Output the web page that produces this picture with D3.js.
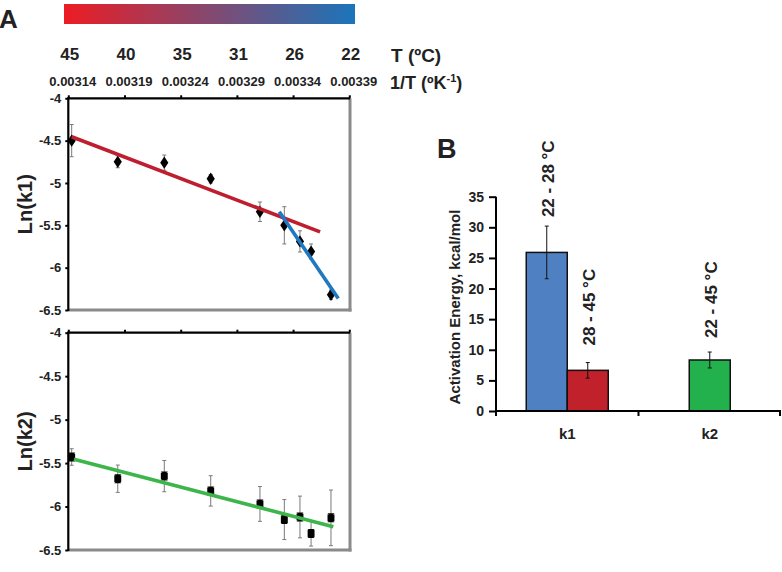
<!DOCTYPE html>
<html><head><meta charset="utf-8">
<script src="https://cdn.jsdelivr.net/npm/d3@7"></script>
<style>
body{margin:0;background:#fff;}
svg text{font-family:"Liberation Sans",Arial,sans-serif;font-weight:bold;fill:#222;}
</style></head>
<body><svg id="c" width="782" height="572"></svg>
<script>
// ---------- data ----------
const invTTicks = [0.00314, 0.00319, 0.00324, 0.00329, 0.00334, 0.00339];
const tempLabels = ["45", "40", "35", "31", "26", "22"];
const lnTicks = [-4, -4.5, -5, -5.5, -6, -6.5];
const invT = [0.003143, 0.003184, 0.0032254, 0.0032667, 0.0033105, 0.0033322, 0.0033461, 0.003356, 0.0033737];
const lnk1 = [-4.50, -4.75, -4.76, -4.95, -5.34, -5.50, -5.69, -5.81, -6.32];
const lnk1Err = [0.19, 0.07, 0.09, 0.05, 0.115, 0.22, 0.125, 0.09, 0.055];
const lnk2 = [-5.43, -5.68, -5.65, -5.82, -5.97, -6.15, -6.12, -6.31, -6.13];
const lnk2Err = [0.095, 0.157, 0.18, 0.175, 0.2, 0.23, 0.24, 0.145, 0.32];
const fitRedX = [0.003143, 0.003364], fitRedY = [-4.454, -5.577];
const fitBlueX = [0.0033277, 0.0033802], fitBlueY = [-5.34, -6.364];
const fitGreenX = [0.003145, 0.0033758], fitGreenY = [-5.457, -6.232];

const eaCategories = ["k1", "k2"];
const eaRanges = ["22 - 28 °C", "28 - 45 °C", "22 - 45 °C"];
const eaCategoryOf = ["k1", "k1", "k2"];
const eaValues = [25.9, 6.64, 8.33];
const eaErrors = [4.3, 1.27, 1.3];
const eaTicks = [0, 5, 10, 15, 20, 25, 30, 35];

// ---------- drawing ----------
const svg = d3.select("#c");
const FONT = '"Liberation Sans",Arial,sans-serif';

// Panel letters
svg.append("text").attr("x", -1).attr("y", 28).attr("font-size", 26).text("A");
svg.append("text").attr("x", 437).attr("y", 158).attr("font-size", 27).text("B");

// colour bar
const defs = svg.append("defs");
const grad = defs.append("linearGradient").attr("id", "tg").attr("x1", "0%").attr("x2", "100%");
grad.append("stop").attr("offset", "0%").attr("stop-color", "#ED1C24");
grad.append("stop").attr("offset", "100%").attr("stop-color", "#1B75BB");
svg.append("rect").attr("x", 64).attr("y", 4).attr("width", 291).attr("height", 20).attr("fill", "url(#tg)");

const x = d3.scaleLinear().domain([0.00314, 0.00339]).range([68.3, 349.3]);

// temperature labels
svg.selectAll("text.tl").data(tempLabels).join("text").attr("class", "tl")
  .attr("x", (d, i) => x(invTTicks[i]) + 1.5).attr("y", 60).attr("text-anchor", "middle")
  .attr("font-size", 17).text(d => d);
svg.append("text").attr("x", 391).attr("y", 62).attr("font-size", 19).text("T (ºC)");
const invLab = svg.append("text").attr("x", 390).attr("y", 89).attr("font-size", 18);
invLab.append("tspan").text("1/T (ºK");
invLab.append("tspan").attr("dy", -7).attr("font-size", 11).text("-1");
invLab.append("tspan").attr("dy", 7).text(")");

function drawPlot(top, bottom, vals, errs, marker, fits, title, showX) {
  const y = d3.scaleLinear().domain([-6.5, -4]).range([bottom, top]);
  const g = svg.append("g");
  // gray frame right & bottom
  g.append("line").attr("x1", 350).attr("x2", 350).attr("y1", top).attr("y2", bottom + 1.5)
    .attr("stroke", "#8a8a8a").attr("stroke-width", 3);
  g.append("line").attr("x1", 68.3).attr("x2", 351.5).attr("y1", bottom).attr("y2", bottom)
    .attr("stroke", "#8a8a8a").attr("stroke-width", 3);
  // axes
  const ax = d3.axisTop(x).tickValues(invTTicks).tickSize(3).tickPadding(9)
    .tickFormat(showX ? (d => d.toFixed(5)) : "");
  const gx = g.append("g").attr("transform", `translate(0,${top})`).call(ax);
  gx.select(".domain").attr("stroke", "#000").attr("stroke-width", 2.2).attr("d", `M67,0H350`);
  gx.selectAll(".tick line").attr("stroke", "#000").attr("stroke-width", 2);
  gx.selectAll(".tick text").attr("font-size", 13).attr("font-family", FONT).attr("font-weight", "bold")
    .attr("fill", "#222").attr("dx", 4);
  const ay = d3.axisLeft(y).tickValues(lnTicks).tickSize(3).tickPadding(4).tickFormat(d => String(d));
  const gy = g.append("g").attr("transform", `translate(68.3,0)`).call(ay);
  gy.select(".domain").attr("stroke", "#000").attr("stroke-width", 2.2).attr("d", `M0,${top}V${bottom+1}`);
  gy.selectAll(".tick line").attr("stroke", "#000").attr("stroke-width", 2);
  gy.selectAll(".tick text").attr("font-size", 13).attr("font-family", FONT).attr("font-weight", "bold")
    .attr("fill", "#222");
  // title
  g.append("text").attr("transform", `translate(32,${(top + bottom) / 2}) rotate(-90)`)
    .attr("text-anchor", "middle").attr("font-size", 20).text(title);
  // error bars
  const eb = g.append("g").attr("stroke", "#7a7a7a").attr("stroke-width", 1);
  vals.forEach((v, i) => {
    const cx = x(invT[i]);
    eb.append("line").attr("x1", cx).attr("x2", cx).attr("y1", y(v + errs[i])).attr("y2", y(v - errs[i]));
    eb.append("line").attr("x1", cx - 2).attr("x2", cx + 2).attr("y1", y(v + errs[i])).attr("y2", y(v + errs[i]));
    eb.append("line").attr("x1", cx - 2).attr("x2", cx + 2).attr("y1", y(v - errs[i])).attr("y2", y(v - errs[i]));
  });
  // markers
  const sym = marker === "diamond" ? d3.symbol(d3.symbolDiamond, 44) : d3.symbol(d3.symbolSquare, 48);
  g.selectAll("path.m").data(vals).join("path").attr("class", "m")
    .attr("transform", (d, i) => `translate(${x(invT[i])},${y(d)})${marker === "diamond" ? " scale(1.15,1)" : ""}`)
    .attr("d", sym).attr("fill", "#000");
  if (marker === "square") {
    g.selectAll("path.mx").data(vals).join("path").attr("class", "mx")
      .attr("transform", (d, i) => `translate(${x(invT[i])},${y(d)})`)
      .attr("d", "M-3.5,-4.5L3.5,-4.5L0,-1ZM-3.5,4.5L3.5,4.5L0,1Z").attr("fill", "#000");
  }
  // fit lines
  fits.forEach(f => {
    g.append("line").attr("x1", x(f.xs[0])).attr("x2", x(f.xs[1]))
      .attr("y1", y(f.ys[0])).attr("y2", y(f.ys[1]))
      .attr("stroke", f.color).attr("stroke-width", 3.6);
  });
}

drawPlot(98.3, 310, lnk1, lnk1Err, "diamond",
  [{xs: fitRedX, ys: fitRedY, color: "#BE1E2D"}, {xs: fitBlueX, ys: fitBlueY, color: "#2078C0"}], "Ln(k1)", true);
drawPlot(332.7, 550, lnk2, lnk2Err, "square",
  [{xs: fitGreenX, ys: fitGreenY, color: "#3EB54A"}], "Ln(k2)", false);

// ---------- panel B ----------
const yb = d3.scaleLinear().domain([0, 35]).range([411, 196.7]);
const xb = d3.scaleBand().domain(eaCategories).range([496, 781]);
const barColors = ["#4F81C2", "#C0212B", "#22B14C"];
const bw = 41;
const gb = svg.append("g");
const pos = eaValues.map((v, i) => {
  const cat = eaCategoryOf[i];
  const members = eaCategoryOf.map((c, j) => c === cat ? j : -1).filter(j => j >= 0);
  const k = members.indexOf(i);
  const cx = xb(cat) + xb.bandwidth() / 2;
  return cx - members.length * bw / 2 + k * bw;
});
gb.selectAll("rect.bar").data(eaValues).join("rect").attr("class", "bar")
  .attr("x", (d, i) => pos[i]).attr("width", bw)
  .attr("y", d => yb(d)).attr("height", d => yb(0) - yb(d))
  .attr("fill", (d, i) => barColors[i]).attr("stroke", "#111").attr("stroke-width", 1.5);
// error bars
eaValues.forEach((v, i) => {
  const cx = pos[i] + bw / 2;
  const e = gb.append("g").attr("stroke", "#111").attr("stroke-width", 1);
  e.append("line").attr("x1", cx).attr("x2", cx).attr("y1", yb(v + eaErrors[i])).attr("y2", yb(v - eaErrors[i]));
  e.append("line").attr("x1", cx - 2).attr("x2", cx + 2).attr("y1", yb(v + eaErrors[i])).attr("y2", yb(v + eaErrors[i]));
  e.append("line").attr("x1", cx - 2).attr("x2", cx + 2).attr("y1", yb(v - eaErrors[i])).attr("y2", yb(v - eaErrors[i]));
});
// range labels
const labOff = [9, 17, 14];
gb.selectAll("text.rl").data(eaRanges).join("text").attr("class", "rl")
  .attr("transform", (d, i) => `translate(${pos[i] + bw / 2 + 7},${yb(eaValues[i] + eaErrors[i]) - labOff[i]}) rotate(-90)`)
  .attr("font-size", 17).text(d => d);
// axes
const gyb = gb.append("g").attr("transform", "translate(496,0)")
  .call(d3.axisLeft(yb).tickValues(eaTicks).tickSize(7).tickPadding(5));
gyb.select(".domain").attr("stroke", "#000").attr("stroke-width", 2).attr("d", "M0,196.7V412");
gyb.selectAll(".tick line").attr("stroke", "#000").attr("stroke-width", 2);
gyb.selectAll(".tick text").attr("font-size", 14).attr("font-family", FONT).attr("font-weight", "bold").attr("fill", "#222");
gb.append("line").attr("x1", 495).attr("x2", 781).attr("y1", 411).attr("y2", 411).attr("stroke", "#000").attr("stroke-width", 2);
[496, 638.5, 780].forEach(tx => gb.append("line").attr("x1", tx).attr("x2", tx).attr("y1", 411).attr("y2", 416)
  .attr("stroke", "#000").attr("stroke-width", 2));
gb.selectAll("text.cat").data(eaCategories).join("text").attr("class", "cat")
  .attr("x", d => xb(d) + xb.bandwidth() / 2).attr("y", 439).attr("text-anchor", "middle")
  .attr("font-size", 15).text(d => d);
gb.append("text").attr("transform", "translate(460,307) rotate(-90)").attr("text-anchor", "middle")
  .attr("font-size", 15).text("Activation Energy, kcal/mol");
</script></body></html>
